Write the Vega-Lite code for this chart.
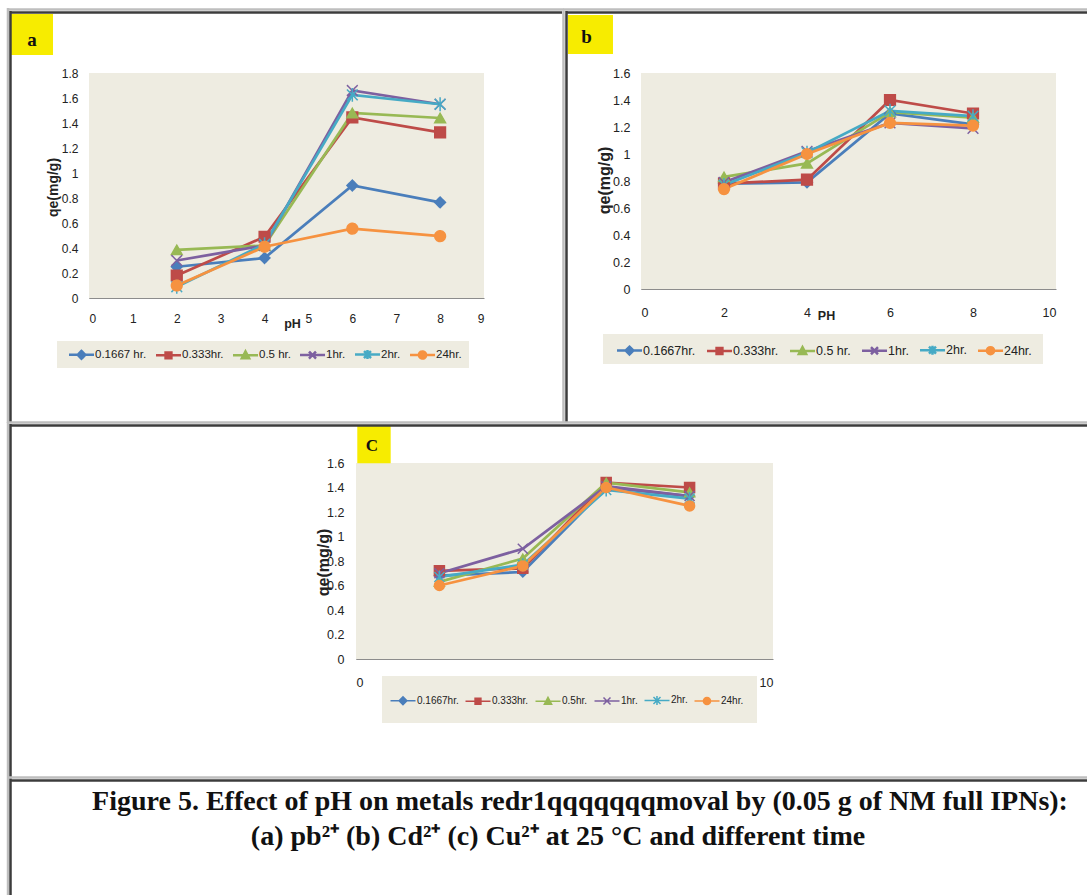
{
"$schema": "https://vega.github.io/schema/vega-lite/v6.json",
"width": 1087, "height": 895, "autosize": {"type": "none"}, "padding": 0, "background": "white",
"config": {"view": {"stroke": null},
 "axis": {"grid": false, "ticks": false, "tickSize": 0, "labelFont": "Liberation Sans", "labelColor": "#222", "domainColor": "#8C8C8C", "domainWidth": 1, "titleFont": "Liberation Sans", "titleFontWeight": "bold", "titleColor": "#222"}},
"datasets": {
 "one": [{"k": 1}],
 "pb": [
  {"pH": 2, "qe": 0.25, "series": "0.1667 hr."}, {"pH": 4, "qe": 0.32, "series": "0.1667 hr."}, {"pH": 6, "qe": 0.9, "series": "0.1667 hr."}, {"pH": 8, "qe": 0.765, "series": "0.1667 hr."},
  {"pH": 2, "qe": 0.18, "series": "0.333hr."}, {"pH": 4, "qe": 0.49, "series": "0.333hr."}, {"pH": 6, "qe": 1.445, "series": "0.333hr."}, {"pH": 8, "qe": 1.325, "series": "0.333hr."},
  {"pH": 2, "qe": 0.385, "series": "0.5 hr."}, {"pH": 4, "qe": 0.42, "series": "0.5 hr."}, {"pH": 6, "qe": 1.48, "series": "0.5 hr."}, {"pH": 8, "qe": 1.44, "series": "0.5 hr."},
  {"pH": 2, "qe": 0.3, "series": "1hr."}, {"pH": 4, "qe": 0.42, "series": "1hr."}, {"pH": 6, "qe": 1.66, "series": "1hr."}, {"pH": 8, "qe": 1.55, "series": "1hr."},
  {"pH": 2, "qe": 0.09, "series": "2hr."}, {"pH": 4, "qe": 0.43, "series": "2hr."}, {"pH": 6, "qe": 1.625, "series": "2hr."}, {"pH": 8, "qe": 1.55, "series": "2hr."},
  {"pH": 2, "qe": 0.1, "series": "24hr."}, {"pH": 4, "qe": 0.41, "series": "24hr."}, {"pH": 6, "qe": 0.555, "series": "24hr."}, {"pH": 8, "qe": 0.495, "series": "24hr."}
 ],
 "cd": [
  {"pH": 2, "qe": 0.78, "series": "0.1667hr."}, {"pH": 4, "qe": 0.79, "series": "0.1667hr."}, {"pH": 6, "qe": 1.3, "series": "0.1667hr."}, {"pH": 8, "qe": 1.22, "series": "0.1667hr."},
  {"pH": 2, "qe": 0.78, "series": "0.333hr."}, {"pH": 4, "qe": 0.81, "series": "0.333hr."}, {"pH": 6, "qe": 1.4, "series": "0.333hr."}, {"pH": 8, "qe": 1.3, "series": "0.333hr."},
  {"pH": 2, "qe": 0.83, "series": "0.5 hr."}, {"pH": 4, "qe": 0.93, "series": "0.5 hr."}, {"pH": 6, "qe": 1.31, "series": "0.5 hr."}, {"pH": 8, "qe": 1.27, "series": "0.5 hr."},
  {"pH": 2, "qe": 0.79, "series": "1hr."}, {"pH": 4, "qe": 1.02, "series": "1hr."}, {"pH": 6, "qe": 1.23, "series": "1hr."}, {"pH": 8, "qe": 1.19, "series": "1hr."},
  {"pH": 2, "qe": 0.77, "series": "2hr."}, {"pH": 4, "qe": 1.01, "series": "2hr."}, {"pH": 6, "qe": 1.32, "series": "2hr."}, {"pH": 8, "qe": 1.28, "series": "2hr."},
  {"pH": 2, "qe": 0.74, "series": "24hr."}, {"pH": 4, "qe": 1.0, "series": "24hr."}, {"pH": 6, "qe": 1.23, "series": "24hr."}, {"pH": 8, "qe": 1.21, "series": "24hr."}
 ],
 "cu": [
  {"pH": 2, "qe": 0.68, "series": "0.1667hr."}, {"pH": 4, "qe": 0.71, "series": "0.1667hr."}, {"pH": 6, "qe": 1.4, "series": "0.1667hr."}, {"pH": 8, "qe": 1.33, "series": "0.1667hr."},
  {"pH": 2, "qe": 0.72, "series": "0.333hr."}, {"pH": 4, "qe": 0.74, "series": "0.333hr."}, {"pH": 6, "qe": 1.44, "series": "0.333hr."}, {"pH": 8, "qe": 1.4, "series": "0.333hr."},
  {"pH": 2, "qe": 0.63, "series": "0.5hr."}, {"pH": 4, "qe": 0.82, "series": "0.5hr."}, {"pH": 6, "qe": 1.44, "series": "0.5hr."}, {"pH": 8, "qe": 1.36, "series": "0.5hr."},
  {"pH": 2, "qe": 0.7, "series": "1hr."}, {"pH": 4, "qe": 0.9, "series": "1hr."}, {"pH": 6, "qe": 1.41, "series": "1hr."}, {"pH": 8, "qe": 1.33, "series": "1hr."},
  {"pH": 2, "qe": 0.67, "series": "2hr."}, {"pH": 4, "qe": 0.77, "series": "2hr."}, {"pH": 6, "qe": 1.38, "series": "2hr."}, {"pH": 8, "qe": 1.31, "series": "2hr."},
  {"pH": 2, "qe": 0.6, "series": "24hr."}, {"pH": 4, "qe": 0.76, "series": "24hr."}, {"pH": 6, "qe": 1.4, "series": "24hr."}, {"pH": 8, "qe": 1.25, "series": "24hr."}
 ]
},
"layer": [
  {"data": {"name": "one"}, "mark": {"type": "rect", "fill": "#EEECE1"}, "encoding": {"x": {"datum": 0, "type": "quantitative", "scale": {"domain": [0, 9], "range": [89, 484]}, "axis": null}, "x2": {"datum": 9}, "y": {"datum": 0, "type": "quantitative", "scale": {"domain": [0, 1.8], "range": [298, 73]}, "axis": null}, "y2": {"datum": 1.8}}},
  {"data": {"name": "one"}, "mark": {"type": "rect", "fill": "#EEECE1"}, "encoding": {"x": {"datum": -0.729, "type": "quantitative", "scale": {"domain": [0, 9], "range": [89, 484]}, "axis": null}, "x2": {"datum": 8.658}, "y": {"datum": -0.344, "type": "quantitative", "scale": {"domain": [0, 1.8], "range": [298, 73]}, "axis": null}, "y2": {"datum": -0.56}}},
  {"data": {"name": "one"}, "mark": {"type": "rect", "fill": "#F7EC00"}, "encoding": {"x": {"datum": -1.777, "type": "quantitative", "scale": {"domain": [0, 9], "range": [89, 484]}, "axis": null}, "x2": {"datum": -0.82}, "y": {"datum": 2.272, "type": "quantitative", "scale": {"domain": [0, 1.8], "range": [298, 73]}, "axis": null}, "y2": {"datum": 1.944}}},
  {"data": {"name": "one"}, "mark": {"type": "text", "text": "a", "font": "Liberation Serif", "fontWeight": "bold", "fontSize": 19, "align": "center", "baseline": "middle", "fill": "#111"}, "encoding": {"x": {"datum": -1.299, "type": "quantitative", "scale": {"domain": [0, 9], "range": [89, 484]}, "axis": null}, "y": {"datum": 2.064, "type": "quantitative", "scale": {"domain": [0, 1.8], "range": [298, 73]}, "axis": null}}},
  {"data": {"name": "one"}, "mark": {"type": "rule", "stroke": "#BEBEBE", "strokeWidth": 2.5}, "encoding": {"x": {"datum": -1.868, "type": "quantitative", "scale": {"domain": [0, 9], "range": [89, 484]}, "axis": null}, "x2": {"datum": 10.811}, "y": {"datum": 2.308, "type": "quantitative", "scale": {"domain": [0, 1.8], "range": [298, 73]}, "axis": null}, "y2": {"datum": 2.308}}},
  {"data": {"name": "one"}, "mark": {"type": "rule", "stroke": "#BEBEBE", "strokeWidth": 2.5}, "encoding": {"x": {"datum": -1.846, "type": "quantitative", "scale": {"domain": [0, 9], "range": [89, 484]}, "axis": null}, "x2": {"datum": -1.846}, "y": {"datum": 2.32, "type": "quantitative", "scale": {"domain": [0, 1.8], "range": [298, 73]}, "axis": null}, "y2": {"datum": -1.0}}},
  {"data": {"name": "one"}, "mark": {"type": "rule", "stroke": "#BEBEBE", "strokeWidth": 2.5}, "encoding": {"x": {"datum": 10.811, "type": "quantitative", "scale": {"domain": [0, 9], "range": [89, 484]}, "axis": null}, "x2": {"datum": 10.811}, "y": {"datum": 2.296, "type": "quantitative", "scale": {"domain": [0, 1.8], "range": [298, 73]}, "axis": null}, "y2": {"datum": -1.0}}},
  {"data": {"name": "one"}, "mark": {"type": "rule", "stroke": "#3C3C3C", "strokeWidth": 2.5}, "encoding": {"x": {"datum": -1.8, "type": "quantitative", "scale": {"domain": [0, 9], "range": [89, 484]}, "axis": null}, "x2": {"datum": 10.777}, "y": {"datum": 2.284, "type": "quantitative", "scale": {"domain": [0, 1.8], "range": [298, 73]}, "axis": null}, "y2": {"datum": 2.284}}},
  {"data": {"name": "one"}, "mark": {"type": "rule", "stroke": "#3C3C3C", "strokeWidth": 2.5}, "encoding": {"x": {"datum": -1.789, "type": "quantitative", "scale": {"domain": [0, 9], "range": [89, 484]}, "axis": null}, "x2": {"datum": -1.789}, "y": {"datum": 2.296, "type": "quantitative", "scale": {"domain": [0, 1.8], "range": [298, 73]}, "axis": null}, "y2": {"datum": -0.992}}},
  {"data": {"name": "pb"}, "mark": {"type": "line", "strokeWidth": 2.75},
   "encoding": {
    "x": {"field": "pH", "type": "quantitative", "scale": {"domain": [0, 9], "range": [89, 484]}, "axis": {"orient": "bottom", "offset": -597, "values": [0, 1, 2, 3, 4, 5, 6, 7, 8, 9], "labelPadding": 15, "labelFontSize": 12, "title": "pH", "titleX": 292, "titleY": 25, "titleBaseline": "middle", "titleFontSize": 12.5}},
    "y": {"field": "qe", "type": "quantitative", "scale": {"domain": [0, 1.8], "range": [298, 73]}, "axis": {"orient": "left", "offset": -89, "values": [0, 0.2, 0.4, 0.6, 0.8, 1, 1.2, 1.4, 1.6, 1.8], "format": "~g", "labelPadding": 11, "labelFontSize": 12, "title": "qe(mg/g)", "titleX": -36, "titleY": 187, "titleAngle": -90, "titleBaseline": "middle", "titleFontSize": 14}},
    "stroke": {"field": "series", "type": "nominal", "scale": {"domain": ["0.1667 hr.", "0.333hr.", "0.5 hr.", "1hr.", "2hr.", "24hr."], "range": ["#4A7EBB", "#BE4B48", "#98B954", "#7D60A0", "#46AAC5", "#F69240"]}, "legend": null}
   }},
  {"data": {"name": "pb"}, "mark": {"type": "point", "filled": false, "opacity": 1, "fillOpacity": 1, "strokeWidth": 1.5},
   "encoding": {
    "x": {"field": "pH", "type": "quantitative", "scale": {"domain": [0, 9], "range": [89, 484]}, "axis": null},
    "y": {"field": "qe", "type": "quantitative", "scale": {"domain": [0, 1.8], "range": [298, 73]}, "axis": null},
    "fill": {"field": "series", "type": "nominal", "scale": {"domain": ["0.1667 hr.", "0.333hr.", "0.5 hr.", "1hr.", "2hr.", "24hr."], "range": ["#4A7EBB", "#BE4B48", "#98B954", "#7D60A0", "#46AAC5", "#F69240"]}, "legend": null},
    "shape": {"field": "series", "type": "nominal", "scale": {"domain": ["0.1667 hr.", "0.333hr.", "0.5 hr.", "1hr.", "2hr.", "24hr."], "range": ["diamond", "square", "triangle-up", "M-1,-1L1,1M-1,1L1,-1", "M-1,-1L1,1M-1,1L1,-1M0,-1.3V1.3", "circle"]}, "legend": null},
    "size": {"value": 115},
    "stroke": {"field": "series", "type": "nominal", "scale": {"domain": ["0.1667 hr.", "0.333hr.", "0.5 hr.", "1hr.", "2hr.", "24hr."], "range": ["#4A7EBB", "#BE4B48", "#98B954", "#7D60A0", "#46AAC5", "#F69240"]}, "legend": null},
    "strokeDash": {"field": "series", "type": "nominal", "scale": {"domain": ["0.1667 hr.", "0.333hr.", "0.5 hr.", "1hr.", "2hr.", "24hr."], "range": [[1, 0], [1, 0], [1, 0], [1, 0], [1, 0], [1, 0]]},
     "legend": {"orient": "none", "legendX": 69, "legendY": 346.3, "direction": "horizontal", "columns": 6, "title": null, "padding": 0, "labelFont": "Liberation Sans", "labelFontSize": 11.5, "labelColor": "#222", "labelOffset": 10, "columnPadding": 4, "symbolSize": 169, "symbolStrokeWidth": 2.5,
      "encoding": {"symbols": {
       "shape": {"condition": [{"test": "datum.index === 0", "value": "M-1.23,0H2.62M0.69,-0.6L1.29,0L0.69,0.6L0.09,0Z"}, {"test": "datum.index === 1", "value": "M-1.23,0H2.62M0.24,-0.45H1.14V0.45H0.24Z"}, {"test": "datum.index === 2", "value": "M-1.23,0H2.62M0.69,-0.6L1.25,0.45L0.13,0.45Z"}, {"test": "datum.index === 3", "value": "M-1.23,0H2.62M0.15,-0.54L1.23,0.54M0.15,0.54L1.23,-0.54"}, {"test": "datum.index === 4", "value": "M-1.23,0H2.62M0.15,-0.54L1.23,0.54M0.15,0.54L1.23,-0.54M0.69,-0.7V0.7"}], "value": "M-1.23,0H2.62M1.24,0A0.55,0.55,0,1,1,0.14,0A0.55,0.55,0,1,1,1.24,0Z"},
       "fill": {"condition": [{"test": "datum.index === 0", "value": "#4A7EBB"}, {"test": "datum.index === 1", "value": "#BE4B48"}, {"test": "datum.index === 2", "value": "#98B954"}, {"test": "datum.index === 3", "value": "#7D60A0"}, {"test": "datum.index === 4", "value": "#46AAC5"}], "value": "#F69240"},
       "stroke": {"condition": [{"test": "datum.index === 0", "value": "#4A7EBB"}, {"test": "datum.index === 1", "value": "#BE4B48"}, {"test": "datum.index === 2", "value": "#98B954"}, {"test": "datum.index === 3", "value": "#7D60A0"}, {"test": "datum.index === 4", "value": "#46AAC5"}], "value": "#F69240"},
       "strokeWidth": {"value": 2.5}, "size": {"value": 169}, "opacity": {"value": 1}}}}}
   }},

  {"data": {"name": "one"}, "mark": {"type": "rect", "fill": "#EEECE1"}, "encoding": {"x": {"datum": 0, "type": "quantitative", "scale": {"domain": [0, 10], "range": [641, 1056]}, "axis": null}, "x2": {"datum": 10}, "y": {"datum": 0, "type": "quantitative", "scale": {"domain": [0, 1.6], "range": [289, 73]}, "axis": null}, "y2": {"datum": 1.6}}},
  {"data": {"name": "one"}, "mark": {"type": "rect", "fill": "#EEECE1"}, "encoding": {"x": {"datum": -0.916, "type": "quantitative", "scale": {"domain": [0, 10], "range": [641, 1056]}, "axis": null}, "x2": {"datum": 9.687}, "y": {"datum": -0.333, "type": "quantitative", "scale": {"domain": [0, 1.6], "range": [289, 73]}, "axis": null}, "y2": {"datum": -0.556}}},
  {"data": {"name": "one"}, "mark": {"type": "rect", "fill": "#F7EC00"}, "encoding": {"x": {"datum": -1.759, "type": "quantitative", "scale": {"domain": [0, 10], "range": [641, 1056]}, "axis": null}, "x2": {"datum": -0.675}, "y": {"datum": 2.03, "type": "quantitative", "scale": {"domain": [0, 1.6], "range": [289, 73]}, "axis": null}, "y2": {"datum": 1.741}}},
  {"data": {"name": "one"}, "mark": {"type": "text", "text": "b", "font": "Liberation Serif", "fontWeight": "bold", "fontSize": 19, "align": "center", "baseline": "middle", "fill": "#111"}, "encoding": {"x": {"datum": -1.31, "type": "quantitative", "scale": {"domain": [0, 10], "range": [641, 1056]}, "axis": null}, "y": {"datum": 1.864, "type": "quantitative", "scale": {"domain": [0, 1.6], "range": [289, 73]}, "axis": null}}},
  {"data": {"name": "one"}, "mark": {"type": "rule", "stroke": "#BEBEBE", "strokeWidth": 2.5}, "encoding": {"x": {"datum": -1.88, "type": "quantitative", "scale": {"domain": [0, 10], "range": [641, 1056]}, "axis": null}, "x2": {"datum": 10.747}, "y": {"datum": 2.07, "type": "quantitative", "scale": {"domain": [0, 1.6], "range": [289, 73]}, "axis": null}, "y2": {"datum": 2.07}}},
  {"data": {"name": "one"}, "mark": {"type": "rule", "stroke": "#3C3C3C", "strokeWidth": 2.5}, "encoding": {"x": {"datum": -1.807, "type": "quantitative", "scale": {"domain": [0, 10], "range": [641, 1056]}, "axis": null}, "x2": {"datum": 10.747}, "y": {"datum": 2.048, "type": "quantitative", "scale": {"domain": [0, 1.6], "range": [289, 73]}, "axis": null}, "y2": {"datum": 2.048}}},
  {"data": {"name": "one"}, "mark": {"type": "rule", "stroke": "#3C3C3C", "strokeWidth": 2.5}, "encoding": {"x": {"datum": -1.795, "type": "quantitative", "scale": {"domain": [0, 10], "range": [641, 1056]}, "axis": null}, "x2": {"datum": -1.795}, "y": {"datum": 2.059, "type": "quantitative", "scale": {"domain": [0, 1.6], "range": [289, 73]}, "axis": null}, "y2": {"datum": -0.985}}},
  {"data": {"name": "cd"}, "mark": {"type": "line", "strokeWidth": 2.75},
   "encoding": {
    "x": {"field": "pH", "type": "quantitative", "scale": {"domain": [0, 10], "range": [641, 1056]}, "axis": {"orient": "bottom", "offset": -606, "values": [0, 2, 4, 6, 8, 10], "labelPadding": 17, "labelFontSize": 12.5, "title": "PH", "titleX": 826, "titleY": 26, "titleBaseline": "middle", "titleFontSize": 12.5}},
    "y": {"field": "qe", "type": "quantitative", "scale": {"domain": [0, 1.6], "range": [289, 73]}, "axis": {"orient": "left", "offset": -641, "values": [0, 0.2, 0.4, 0.6, 0.8, 1, 1.2, 1.4, 1.6], "format": "~g", "labelPadding": 11, "labelFontSize": 12.5, "title": "qe(mg/g)", "titleX": -37, "titleY": 180, "titleAngle": -90, "titleBaseline": "middle", "titleFontSize": 16}},
    "stroke": {"field": "series", "type": "nominal", "scale": {"domain": ["0.1667hr.", "0.333hr.", "0.5 hr.", "1hr.", "2hr.", "24hr."], "range": ["#4A7EBB", "#BE4B48", "#98B954", "#7D60A0", "#46AAC5", "#F69240"]}, "legend": null}
   }},
  {"data": {"name": "cd"}, "mark": {"type": "point", "filled": false, "fillOpacity": 1, "strokeWidth": 1.5},
   "encoding": {
    "x": {"field": "pH", "type": "quantitative", "scale": {"domain": [0, 10], "range": [641, 1056]}, "axis": null},
    "y": {"field": "qe", "type": "quantitative", "scale": {"domain": [0, 1.6], "range": [289, 73]}, "axis": null},
    "fill": {"field": "series", "type": "nominal", "scale": {"domain": ["0.1667hr.", "0.333hr.", "0.5 hr.", "1hr.", "2hr.", "24hr."], "range": ["#4A7EBB", "#BE4B48", "#98B954", "#7D60A0", "#46AAC5", "#F69240"]}, "legend": null},
    "shape": {"field": "series", "type": "nominal", "scale": {"domain": ["0.1667hr.", "0.333hr.", "0.5 hr.", "1hr.", "2hr.", "24hr."], "range": ["diamond", "square", "triangle-up", "M-1,-1L1,1M-1,1L1,-1", "M-1,-1L1,1M-1,1L1,-1M0,-1.3V1.3", "circle"]}, "legend": null},
    "size": {"value": 115},
    "stroke": {"field": "series", "type": "nominal", "scale": {"domain": ["0.1667hr.", "0.333hr.", "0.5 hr.", "1hr.", "2hr.", "24hr."], "range": ["#4A7EBB", "#BE4B48", "#98B954", "#7D60A0", "#46AAC5", "#F69240"]}, "legend": null},
    "opacity": {"field": "series", "type": "nominal", "scale": {"domain": ["0.1667hr.", "0.333hr.", "0.5 hr.", "1hr.", "2hr.", "24hr."], "range": [1, 1]},
     "legend": {"orient": "none", "legendX": 617, "legendY": 342, "direction": "horizontal", "columns": 6, "title": null, "padding": 0, "labelFont": "Liberation Sans", "labelFontSize": 12.5, "labelColor": "#222", "labelOffset": 10, "columnPadding": 6, "symbolSize": 169, "symbolStrokeWidth": 2.5,
      "encoding": {"symbols": {
       "shape": {"condition": [{"test": "datum.index === 0", "value": "M-1.23,0H2.62M0.69,-0.6L1.29,0L0.69,0.6L0.09,0Z"}, {"test": "datum.index === 1", "value": "M-1.23,0H2.62M0.24,-0.45H1.14V0.45H0.24Z"}, {"test": "datum.index === 2", "value": "M-1.23,0H2.62M0.69,-0.6L1.25,0.45L0.13,0.45Z"}, {"test": "datum.index === 3", "value": "M-1.23,0H2.62M0.15,-0.54L1.23,0.54M0.15,0.54L1.23,-0.54"}, {"test": "datum.index === 4", "value": "M-1.23,0H2.62M0.15,-0.54L1.23,0.54M0.15,0.54L1.23,-0.54M0.69,-0.7V0.7"}], "value": "M-1.23,0H2.62M1.24,0A0.55,0.55,0,1,1,0.14,0A0.55,0.55,0,1,1,1.24,0Z"},
       "fill": {"condition": [{"test": "datum.index === 0", "value": "#4A7EBB"}, {"test": "datum.index === 1", "value": "#BE4B48"}, {"test": "datum.index === 2", "value": "#98B954"}, {"test": "datum.index === 3", "value": "#7D60A0"}, {"test": "datum.index === 4", "value": "#46AAC5"}], "value": "#F69240"},
       "stroke": {"condition": [{"test": "datum.index === 0", "value": "#4A7EBB"}, {"test": "datum.index === 1", "value": "#BE4B48"}, {"test": "datum.index === 2", "value": "#98B954"}, {"test": "datum.index === 3", "value": "#7D60A0"}, {"test": "datum.index === 4", "value": "#46AAC5"}], "value": "#F69240"},
       "strokeWidth": {"value": 2.5}, "size": {"value": 169}, "opacity": {"value": 1}}}}}
   }},

  {"data": {"name": "one"}, "mark": {"type": "rect", "fill": "#EEECE1"}, "encoding": {"x": {"datum": 0, "type": "quantitative", "scale": {"domain": [0, 10], "range": [356, 773]}, "axis": null}, "x2": {"datum": 10}, "y": {"datum": 0, "type": "quantitative", "scale": {"domain": [0, 1.6], "range": [659, 463]}, "axis": null}, "y2": {"datum": 1.6}}},
  {"data": {"name": "one"}, "mark": {"type": "rect", "fill": "#EEECE1"}, "encoding": {"x": {"datum": 0.6235, "type": "quantitative", "scale": {"domain": [0, 10], "range": [356, 773]}, "axis": null}, "x2": {"datum": 9.616}, "y": {"datum": -0.1388, "type": "quantitative", "scale": {"domain": [0, 1.6], "range": [659, 463]}, "axis": null}, "y2": {"datum": -0.5224}}},
  {"data": {"name": "one"}, "mark": {"type": "rect", "fill": "#F7EC00"}, "encoding": {"x": {"datum": 0.031, "type": "quantitative", "scale": {"domain": [0, 10], "range": [356, 773]}, "axis": null}, "x2": {"datum": 0.832}, "y": {"datum": 1.902, "type": "quantitative", "scale": {"domain": [0, 1.6], "range": [659, 463]}, "axis": null}, "y2": {"datum": 1.598}}},
  {"data": {"name": "one"}, "mark": {"type": "text", "text": "C", "font": "Liberation Serif", "fontWeight": "bold", "fontSize": 17, "align": "center", "baseline": "middle", "fill": "#111"}, "encoding": {"x": {"datum": 0.384, "type": "quantitative", "scale": {"domain": [0, 10], "range": [356, 773]}, "axis": null}, "y": {"datum": 1.737, "type": "quantitative", "scale": {"domain": [0, 1.6], "range": [659, 463]}, "axis": null}}},
  {"data": {"name": "one"}, "mark": {"type": "rule", "stroke": "#BEBEBE", "strokeWidth": 2.5}, "encoding": {"x": {"datum": -8.345, "type": "quantitative", "scale": {"domain": [0, 10], "range": [356, 773]}, "axis": null}, "x2": {"datum": 17.53}, "y": {"datum": 1.931, "type": "quantitative", "scale": {"domain": [0, 1.6], "range": [659, 463]}, "axis": null}, "y2": {"datum": 1.931}}},
  {"data": {"name": "one"}, "mark": {"type": "rule", "stroke": "#3C3C3C", "strokeWidth": 2.5}, "encoding": {"x": {"datum": -8.297, "type": "quantitative", "scale": {"domain": [0, 10], "range": [356, 773]}, "axis": null}, "x2": {"datum": 17.53}, "y": {"datum": 1.906, "type": "quantitative", "scale": {"domain": [0, 1.6], "range": [659, 463]}, "axis": null}, "y2": {"datum": 1.906}}},
  {"data": {"name": "one"}, "mark": {"type": "rule", "stroke": "#BEBEBE", "strokeWidth": 2.5}, "encoding": {"x": {"datum": -8.345, "type": "quantitative", "scale": {"domain": [0, 10], "range": [356, 773]}, "axis": null}, "x2": {"datum": -8.345}, "y": {"datum": 1.935, "type": "quantitative", "scale": {"domain": [0, 1.6], "range": [659, 463]}, "axis": null}, "y2": {"datum": -1.927}}},
  {"data": {"name": "one"}, "mark": {"type": "rule", "stroke": "#3C3C3C", "strokeWidth": 2.5}, "encoding": {"x": {"datum": -8.285, "type": "quantitative", "scale": {"domain": [0, 10], "range": [356, 773]}, "axis": null}, "x2": {"datum": -8.285}, "y": {"datum": 1.918, "type": "quantitative", "scale": {"domain": [0, 1.6], "range": [659, 463]}, "axis": null}, "y2": {"datum": -1.927}}},
  {"data": {"name": "one"}, "mark": {"type": "rule", "stroke": "#BEBEBE", "strokeWidth": 2.5}, "encoding": {"x": {"datum": -8.345, "type": "quantitative", "scale": {"domain": [0, 10], "range": [356, 773]}, "axis": null}, "x2": {"datum": 17.53}, "y": {"datum": -0.967, "type": "quantitative", "scale": {"domain": [0, 1.6], "range": [659, 463]}, "axis": null}, "y2": {"datum": -0.967}}},
  {"data": {"name": "one"}, "mark": {"type": "rule", "stroke": "#3C3C3C", "strokeWidth": 2.5}, "encoding": {"x": {"datum": -8.297, "type": "quantitative", "scale": {"domain": [0, 10], "range": [356, 773]}, "axis": null}, "x2": {"datum": 17.53}, "y": {"datum": -0.992, "type": "quantitative", "scale": {"domain": [0, 1.6], "range": [659, 463]}, "axis": null}, "y2": {"datum": -0.992}}},
  {"data": {"name": "one"}, "mark": {"type": "text", "text": "Figure 5. Effect of pH on metals redr1qqqqqqqmoval by (0.05 g of NM full IPNs):", "font": "Liberation Serif", "fontWeight": "bold", "fontSize": 28, "align": "center", "baseline": "alphabetic", "fill": "#111"}, "encoding": {"x": {"datum": 5.372, "type": "quantitative", "scale": {"domain": [0, 10], "range": [356, 773]}, "axis": null}, "y": {"datum": -1.2327, "type": "quantitative", "scale": {"domain": [0, 1.6], "range": [659, 463]}, "axis": null}}},
  {"data": {"name": "one"}, "mark": {"type": "text", "text": "(a) pb²⁺ (b) Cd²⁺ (c) Cu²⁺ at  25 °C and different time", "font": "Liberation Serif", "fontWeight": "bold", "fontSize": 28, "align": "center", "baseline": "alphabetic", "fill": "#111"}, "encoding": {"x": {"datum": 4.844, "type": "quantitative", "scale": {"domain": [0, 10], "range": [356, 773]}, "axis": null}, "y": {"datum": -1.5184, "type": "quantitative", "scale": {"domain": [0, 1.6], "range": [659, 463]}, "axis": null}}},
  {"data": {"name": "cu"}, "mark": {"type": "line", "strokeWidth": 2.75},
   "encoding": {
    "x": {"field": "pH", "type": "quantitative", "scale": {"domain": [0, 10], "range": [356, 773]}, "axis": {"orient": "bottom", "offset": -236, "values": [0, 10], "labelPadding": 17, "labelFontSize": 12.5, "title": null}},
    "y": {"field": "qe", "type": "quantitative", "scale": {"domain": [0, 1.6], "range": [659, 463]}, "axis": {"orient": "left", "offset": -356, "values": [0, 0.2, 0.4, 0.6, 0.8, 1, 1.2, 1.4, 1.6], "format": "~g", "labelPadding": 12, "labelFontSize": 12.5, "title": "qe(mg/g)", "titleX": -33, "titleY": 562, "titleAngle": -90, "titleBaseline": "middle", "titleFontSize": 16}},
    "stroke": {"field": "series", "type": "nominal", "scale": {"domain": ["0.1667hr.", "0.333hr.", "0.5hr.", "1hr.", "2hr.", "24hr."], "range": ["#4A7EBB", "#BE4B48", "#98B954", "#7D60A0", "#46AAC5", "#F69240"]}, "legend": null}
   }},
  {"data": {"name": "cu"}, "mark": {"type": "point", "filled": false, "opacity": 1, "fillOpacity": 1},
   "encoding": {
    "x": {"field": "pH", "type": "quantitative", "scale": {"domain": [0, 10], "range": [356, 773]}, "axis": null},
    "y": {"field": "qe", "type": "quantitative", "scale": {"domain": [0, 1.6], "range": [659, 463]}, "axis": null},
    "fill": {"field": "series", "type": "nominal", "scale": {"domain": ["0.1667hr.", "0.333hr.", "0.5hr.", "1hr.", "2hr.", "24hr."], "range": ["#4A7EBB", "#BE4B48", "#98B954", "#7D60A0", "#46AAC5", "#F69240"]}, "legend": null},
    "shape": {"field": "series", "type": "nominal", "scale": {"domain": ["0.1667hr.", "0.333hr.", "0.5hr.", "1hr.", "2hr.", "24hr."], "range": ["diamond", "square", "triangle-up", "M-1,-1L1,1M-1,1L1,-1", "M-1,-1L1,1M-1,1L1,-1M0,-1.3V1.3", "circle"]}, "legend": null},
    "size": {"value": 100},
    "stroke": {"field": "series", "type": "nominal", "scale": {"domain": ["0.1667hr.", "0.333hr.", "0.5hr.", "1hr.", "2hr.", "24hr."], "range": ["#4A7EBB", "#BE4B48", "#98B954", "#7D60A0", "#46AAC5", "#F69240"]}, "legend": null},
    "strokeWidth": {"field": "series", "type": "nominal", "scale": {"domain": ["0.1667hr.", "0.333hr.", "0.5hr.", "1hr.", "2hr.", "24hr."], "range": [1.5, 1.5]},
     "legend": {"orient": "none", "legendX": 391, "legendY": 692.5, "direction": "horizontal", "columns": 6, "title": null, "padding": 0, "labelFont": "Liberation Sans", "labelFontSize": 10, "labelColor": "#222", "labelOffset": 11, "columnPadding": 3, "symbolSize": 169,
      "encoding": {"symbols": {
       "shape": {"condition": [{"test": "datum.index === 0", "value": "M-1.23,0H2.62M0.69,-0.6L1.29,0L0.69,0.6L0.09,0Z"}, {"test": "datum.index === 1", "value": "M-1.23,0H2.62M0.24,-0.45H1.14V0.45H0.24Z"}, {"test": "datum.index === 2", "value": "M-1.23,0H2.62M0.69,-0.6L1.25,0.45L0.13,0.45Z"}, {"test": "datum.index === 3", "value": "M-1.23,0H2.62M0.15,-0.54L1.23,0.54M0.15,0.54L1.23,-0.54"}, {"test": "datum.index === 4", "value": "M-1.23,0H2.62M0.15,-0.54L1.23,0.54M0.15,0.54L1.23,-0.54M0.69,-0.7V0.7"}], "value": "M-1.23,0H2.62M1.24,0A0.55,0.55,0,1,1,0.14,0A0.55,0.55,0,1,1,1.24,0Z"},
       "fill": {"condition": [{"test": "datum.index === 0", "value": "#4A7EBB"}, {"test": "datum.index === 1", "value": "#BE4B48"}, {"test": "datum.index === 2", "value": "#98B954"}, {"test": "datum.index === 3", "value": "#7D60A0"}, {"test": "datum.index === 4", "value": "#46AAC5"}], "value": "#F69240"},
       "stroke": {"condition": [{"test": "datum.index === 0", "value": "#4A7EBB"}, {"test": "datum.index === 1", "value": "#BE4B48"}, {"test": "datum.index === 2", "value": "#98B954"}, {"test": "datum.index === 3", "value": "#7D60A0"}, {"test": "datum.index === 4", "value": "#46AAC5"}], "value": "#F69240"},
       "strokeWidth": {"value": 2.5}, "size": {"value": 169}, "opacity": {"value": 1}}}}}
   }}
],
"resolve": {"scale": {"x": "independent", "y": "independent", "stroke": "independent", "fill": "independent", "shape": "independent"}, "axis": {"x": "independent", "y": "independent"}}
}
